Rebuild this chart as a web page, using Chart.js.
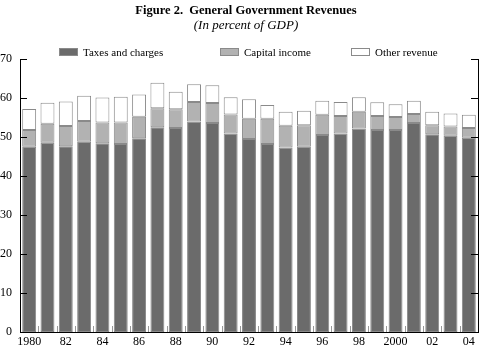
<!DOCTYPE html>
<html>
<head>
<meta charset="utf-8">
<script src="https://cdn.jsdelivr.net/npm/chart.js@4"></script>
<style>
  html, body { margin: 0; padding: 0; background: #fff; }
</style>
</head>
<body>
<canvas id="myChart" width="480" height="349"></canvas>
<script>
// data (percent of GDP)
const years = ['1980','1981','1982','1983','1984','1985','1986','1987','1988','1989','1990','1991','1992',
               '1993','1994','1995','1996','1997','1998','1999','2000','2001','2002','2003','2004'];
const yearLabels = ['1980','','82','','84','','86','','88','','90','','92',
                    '','94','','96','','98','','2000','','02','','04'];
const taxes         = [47.5,48.5,47.6,48.8,48.4,48.2,49.7,52.5,52.3,54.0,53.6,50.9,49.5,
                       48.2,47.3,47.5,50.5,50.9,52.2,51.8,51.8,53.6,50.7,50.3,49.8];
const capitalIncome = [4.3,4.9,5.2,5.3,5.3,5.5,5.5,4.9,4.8,5.0,5.1,4.9,5.2,
                       6.5,5.6,5.5,5.2,4.5,4.3,3.6,3.3,2.3,2.3,2.4,2.5];
const otherRevenue  = [5.4,5.4,6.3,6.5,6.4,6.6,5.7,6.5,4.5,4.5,4.6,4.4,5.0,
                       3.5,3.6,3.7,3.6,3.6,3.7,3.5,3.3,3.4,3.5,3.3,3.4];
const yTicks = [0,10,20,30,40,50,60,70];

const serif = '"Liberation Serif", "DejaVu Serif", serif';

// titles, legend and the inward tick marks
const decorations = {
  id: 'decorations',
  afterDraw(chart) {
    const ctx = chart.ctx;
    const ca = chart.chartArea;
    const xs = chart.scales.x;
    const ys = chart.scales.y;
    ctx.save();

    ctx.fillStyle = '#000';
    ctx.textAlign = 'center';
    ctx.textBaseline = 'alphabetic';
    ctx.font = 'bold 12.5px ' + serif;
    ctx.fillText('Figure 2.  General Government Revenues', 246, 14);
    ctx.font = 'italic 13px ' + serif;
    ctx.fillText('(In percent of GDP)', 246, 29);

    // legend
    const legendX = [59, 220, 351];
    ctx.font = '11px ' + serif;
    ctx.textAlign = 'left';
    chart.data.datasets.forEach((ds, i) => {
      ctx.fillStyle = ds.backgroundColor;
      ctx.fillRect(legendX[i], 48, 19, 8);
      ctx.strokeStyle = ds.borderColor;
      ctx.lineWidth = 1;
      ctx.strokeRect(legendX[i] + 0.5, 48.5, 18, 7);
      ctx.fillStyle = '#000';
      ctx.fillText(ds.label, legendX[i] + 24, 56);
    });

    // right axis line
    ctx.strokeStyle = '#000';
    ctx.lineWidth = 1;
    const r = Math.round(ca.right) + 0.5;
    ctx.beginPath();
    ctx.moveTo(r, ys.getPixelForValue(70));
    ctx.lineTo(r, ys.getPixelForValue(0));
    ctx.stroke();

    // inward y ticks on both sides
    ctx.beginPath();
    yTicks.forEach(v => {
      const y = Math.round(ys.getPixelForValue(v)) + 0.5;
      ctx.moveTo(ca.left, y);
      ctx.lineTo(ca.left + 7, y);
      ctx.moveTo(ca.right - 7, y);
      ctx.lineTo(ca.right + 1, y);
    });
    ctx.stroke();

    // small x ticks between bars
    ctx.strokeStyle = '#999';
    ctx.beginPath();
    for (let i = 1; i < years.length; i++) {
      const x = Math.round((xs.getPixelForValue(i - 1) + xs.getPixelForValue(i)) / 2) + 0.5;
      ctx.moveTo(x, ca.bottom);
      ctx.lineTo(x, ca.bottom - 6);
    }
    ctx.stroke();
    ctx.restore();
  }
};

const data = {
  labels: years,
  datasets: [
    { label: 'Taxes and charges', data: taxes, backgroundColor: '#6b6b6b', borderColor: '#8a8a8a' },
    { label: 'Capital income', data: capitalIncome, backgroundColor: '#b2b2b2', borderColor: '#8a8a8a' },
    { label: 'Other revenue', data: otherRevenue, backgroundColor: '#ffffff', borderColor: '#8a8a8a' }
  ].map(ds => Object.assign(ds, {
    borderWidth: 1,
    borderSkipped: false,
    barPercentage: 0.76,
    categoryPercentage: 1
  }))
};

const config = {
  type: 'bar',
  data,
  options: {
    responsive: false,
    animation: false,
    devicePixelRatio: 1,
    layout: { padding: { top: 59, right: 2, left: 0, bottom: 0 } },
    plugins: {
      legend: { display: false },
      title: { display: false },
      tooltip: { enabled: false }
    },
    scales: {
      x: {
        stacked: true,
        offset: true,
        grid: { display: false, drawTicks: false, tickLength: 0 },
        border: { display: true, color: '#000', width: 1 },
        ticks: {
          autoSkip: false,
          maxRotation: 0,
          padding: 3,
          color: '#000',
          font: { family: serif, size: 12 },
          callback: (v, i) => yearLabels[i]
        },
        afterFit: s => { s.height = 17; }
      },
      y: {
        stacked: true,
        min: 0,
        max: 70,
        grid: { display: false, drawTicks: false, tickLength: 0 },
        border: { display: true, color: '#000', width: 1 },
        ticks: {
          stepSize: 10,
          padding: 8,
          color: '#000',
          font: { family: serif, size: 12 }
        },
        afterFit: s => { s.width = 20; }
      }
    }
  },
  plugins: [decorations]
};

new Chart(document.getElementById('myChart'), config);
</script>
</body>
</html>
